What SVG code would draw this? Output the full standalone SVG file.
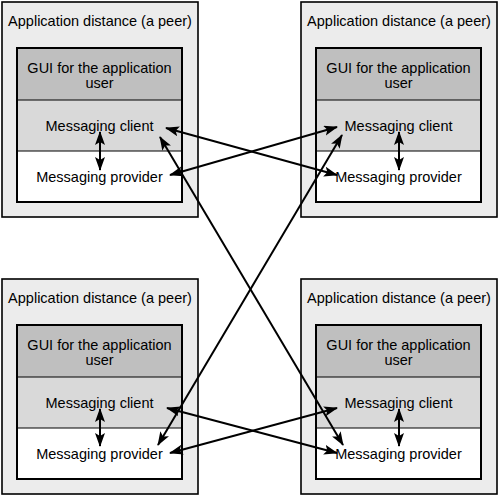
<svg xmlns="http://www.w3.org/2000/svg" width="500" height="497" viewBox="0 0 500 497">
<style>
.outer{fill:#ececec;stroke:#000;stroke-width:1.6}
.gui{fill:#bfbfbf}
.cli{fill:#d9d9d9}
.prov{fill:#fff}
.sep{stroke:#000;stroke-width:1}
.frame{fill:none;stroke:#000;stroke-width:2}
text{font-family:"Liberation Sans",Arial,sans-serif;font-size:14.5px;fill:#000;text-anchor:middle}
.conn line{stroke:#000;stroke-width:2;marker-start:url(#ah);marker-end:url(#ah)}
</style>
<defs>
<marker id="ah" markerUnits="userSpaceOnUse" markerWidth="14" markerHeight="11" refX="13" refY="5" orient="auto-start-reverse">
<path d="M0,0 L14,5 L0,10 L3,5 z" fill="#000"/>
</marker>
<g id="peer">
<rect class="outer" x="0" y="0" width="196" height="215"/>
<text x="98" y="24">Application distance (a peer)</text>
<rect class="gui" x="15" y="46" width="165" height="52"/>
<rect class="cli" x="15" y="98" width="165" height="51"/>
<rect class="prov" x="15" y="149" width="165" height="51"/>
<line class="sep" x1="15" y1="98" x2="180" y2="98"/>
<line class="sep" x1="15" y1="149" x2="180" y2="149"/>
<rect class="frame" x="15" y="46" width="165" height="154"/>
<text x="97.5" y="71">GUI for the application</text>
<text x="97.5" y="86">user</text>
<text x="97.5" y="129">Messaging client</text>
<text x="97.5" y="180">Messaging provider</text>
</g>
</defs>
<g id="peer-top-left"><use href="#peer" x="2" y="2"/></g>
<g id="peer-top-right"><use href="#peer" x="301" y="2"/></g>
<g id="peer-bottom-left"><use href="#peer" x="2" y="279"/></g>
<g id="peer-bottom-right"><use href="#peer" x="301" y="279"/></g>
<g class="conn" id="connectors">
<line x1="100" y1="132" x2="100" y2="170"/>
<line x1="399" y1="132" x2="399" y2="170"/>
<line x1="100" y1="409" x2="100" y2="446"/>
<line x1="399" y1="409" x2="399" y2="446"/>
<line x1="166" y1="128" x2="337" y2="175"/>
<line x1="170" y1="175" x2="337" y2="127"/>
<line x1="160" y1="137" x2="343" y2="445"/>
<line x1="342" y1="135" x2="158" y2="445"/>
<line x1="167" y1="408" x2="337" y2="453"/>
<line x1="170" y1="453" x2="337" y2="408"/>
</g>
</svg>
